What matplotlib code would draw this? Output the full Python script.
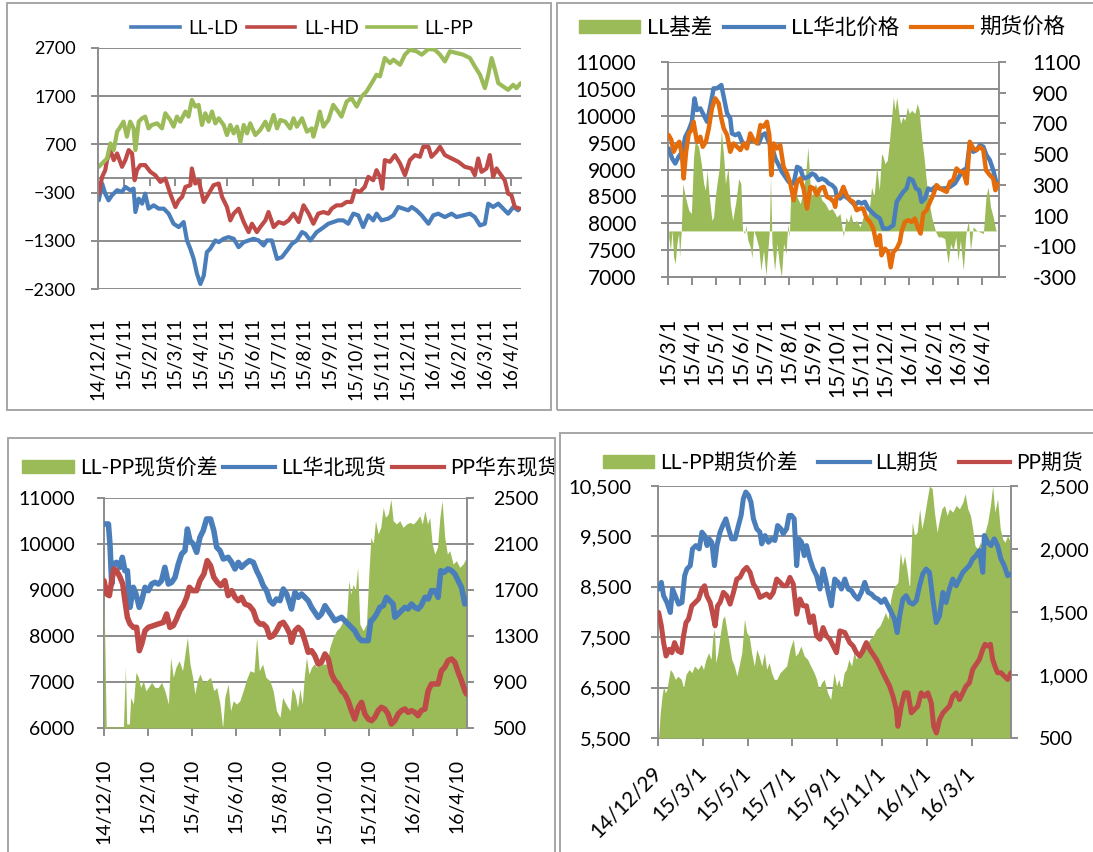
import matplotlib
matplotlib.use("Agg")
import matplotlib.pyplot as plt
from matplotlib.patches import Rectangle, Patch
from matplotlib.lines import Line2D
from matplotlib.transforms import Bbox, TransformedBbox

# ---------------- data (x in months from the first axis label) ----------------
# panel 1: LL-LD / LL-HD / LL-PP spreads
p1_ticks = ["14/12/11", "15/1/11", "15/2/11", "15/3/11", "15/4/11", "15/5/11", "15/6/11",
            "15/7/11", "15/8/11", "15/9/11", "15/10/11", "15/11/11", "15/12/11", "16/1/11",
            "16/2/11", "16/3/11", "16/4/11"]
ld_m = [0.03, 0.16, 0.28, 0.41, 0.54, 0.74, 0.93, 1.06, 1.25, 1.38, 1.45, 1.58, 1.71, 1.83, 1.96,
        2.16, 2.35, 2.55, 2.74, 2.93, 3.13, 3.32, 3.45, 3.58, 3.71, 3.84, 3.97, 4.10, 4.22, 4.35,
        4.55, 4.68, 4.87, 5.06, 5.26, 5.45, 5.65, 5.84, 6.03, 6.23, 6.42, 6.55, 6.74, 6.94, 7.13,
        7.33, 7.52, 7.71, 7.91, 8.04, 8.23,
        8.48, 8.67, 8.93, 9.12, 9.31, 9.51, 9.70, 9.90, 10.09, 10.28, 10.48, 10.67, 10.80, 10.99,
        11.25, 11.45, 11.64, 11.84, 12.03, 12.16, 12.35, 12.55, 12.81, 13.00, 13.19, 13.45, 13.71,
        13.90, 14.16, 14.42, 14.61, 14.81, 15.00, 15.13, 15.32, 15.52, 15.71, 15.90, 16.10, 16.29]
ld_v = [-460, -112, -321, -460, -355, -251, -286, -182, -251, -217, -703, -425, -529, -321, -633,
        -564, -633, -633, -737, -946, -1015, -911, -1293, -1467, -1675, -1988, -2196, -2023, -1536, -1467,
        -1293, -1328, -1258, -1223, -1258, -1432, -1328, -1293, -1258, -1293, -1397, -1293, -1293, -1675, -1640,
        -1501, -1362, -1293, -1119, -1154, -1293,
        -1119, -1050, -946, -911, -876, -876, -946, -737, -772, -1015, -772, -876, -737, -876,
        -841, -772, -599, -633, -668, -599, -668, -772, -946, -772, -737, -807, -737,
        -807, -772, -737, -807, -981, -946, -529, -599, -529, -633, -737, -599, -668]
hd_m = [0.03, 0.16, 0.28, 0.35, 0.48, 0.61, 0.74, 0.93, 1.06, 1.19, 1.32, 1.42, 1.51, 1.64, 1.83,
        2.03, 2.22, 2.42, 2.61, 2.80, 3.00, 3.13, 3.26, 3.39, 3.58, 3.64, 3.77, 3.90, 4.10, 4.29,
        4.48, 4.68, 4.81, 5.00, 5.13, 5.26, 5.45, 5.65, 5.84, 5.97, 6.16, 6.29, 6.49, 6.61, 6.81,
        7.00, 7.20, 7.39, 7.58, 7.78, 7.97, 8.17, 8.29,
        8.35, 8.54, 8.74, 8.93, 9.06, 9.25, 9.44, 9.64, 9.83, 9.96, 10.15, 10.34, 10.48, 10.67,
        10.80, 10.93, 11.02, 11.12, 11.32, 11.51, 11.71, 11.90, 12.09, 12.29, 12.48, 12.61, 12.81,
        12.93, 13.12, 13.26, 13.45, 13.71, 13.97, 14.22, 14.48, 14.61, 14.74, 14.87, 15.06, 15.19,
        15.32, 15.45, 15.58, 15.77, 15.90, 16.03, 16.16, 16.36]
hd_v = [-321, 27, 165, 374, 582, 374, 512, 235, 374, 582, 512, -43, 165, 270, 270,
        131, 61, -78, -8, -321, -599, -460, -390, -182, -147, 200, -112, -43, -494, -321,
        -147, -112, -390, -599, -876, -737, -633, -911, -1119, -946, -1119, -1015, -876, -703, -1015,
        -911, -946, -876, -737, -911, -564, -737, -876,
        -946, -737, -703, -737, -633, -564, -564, -494, -494, -251, -286, -182, 27, -43,
        165, 27, -217, 374, 339, 478, 304, 61, 374, 478, 443, 651, 651,
        443, 547, 651, 478, 408, 339, 235, 200, 61, 408, 131, 200, 478,
        27, 200, 96, -43, -321, -355, -599, -633]
pp_m = [0.03, 0.22, 0.35, 0.48, 0.61, 0.74, 0.87, 0.99, 1.12, 1.25, 1.38, 1.45, 1.58, 1.71, 1.83,
        1.96, 2.09, 2.29, 2.48, 2.61, 2.80, 2.93, 3.06, 3.19, 3.39, 3.51, 3.64, 3.77, 3.90, 4.03,
        4.16, 4.29, 4.42, 4.55, 4.68, 4.87, 5.00, 5.13, 5.26, 5.39, 5.52, 5.65, 5.78, 5.90, 6.10,
        6.29, 6.49, 6.61, 6.81, 6.94, 7.07, 7.26, 7.45, 7.58, 7.71, 7.91, 8.10, 8.29,
        8.35, 8.48, 8.60, 8.74, 8.93, 9.12, 9.31, 9.44, 9.64, 9.83, 10.03, 10.22, 10.41, 10.61,
        10.80, 10.93, 11.12, 11.32, 11.45, 11.71, 11.90, 12.09, 12.35, 12.55, 12.81, 13.06, 13.26,
        13.45, 13.64, 13.90, 14.16, 14.42, 14.61, 14.81, 15.00, 15.13, 15.26, 15.39, 15.52, 15.71,
        15.90, 16.10, 16.22, 16.39]
pp_v = [235, 339, 408, 721, 582, 964, 1068, 1172, 860, 1172, 1033, 582, 1172, 1242, 1276,
        1033, 1103, 1137, 1033, 1346, 1207, 1068, 1276, 1172, 1381, 1276, 1624, 1485, 1520, 1103,
        1346, 1172, 1381, 1137, 1242, 1103, 894, 1103, 929, 1068, 756, 1103, 929, 1137, 894,
        999, 1172, 999, 1311, 1033, 1207, 1172, 1033, 1242, 1068, 1242, 964, 1033,
        860, 1103, 1381, 1068, 1207, 1520, 1381, 1276, 1589, 1659, 1485, 1693, 1797, 1971,
        2145, 2110, 2492, 2388, 2457, 2353, 2561, 2665, 2631, 2561, 2679, 2665, 2561,
        2422, 2631, 2596, 2561, 2492, 2318, 2145, 1867, 2145, 2492, 2249, 1971, 1901,
        1832, 1936, 1867, 1971]

# panel 2: LL basis, LL north-China price, futures price
p2_ticks = ["15/3/1", "15/4/1", "15/5/1", "15/6/1", "15/7/1", "15/8/1", "15/9/1", "15/10/1",
            "15/11/1", "15/12/1", "16/1/1", "16/2/1", "16/3/1", "16/4/1"]
nc_m = [0.03, 0.17, 0.30, 0.44, 0.58, 0.72, 0.86, 0.99, 1.10, 1.20, 1.34, 1.48, 1.62, 1.75, 1.89,
        2.03, 2.21, 2.35, 2.45, 2.58, 2.65, 2.79, 2.93, 3.07, 3.20, 3.34, 3.55, 3.76, 3.90, 4.03,
        4.17, 4.31, 4.45, 4.59, 4.72, 4.86, 5.00, 5.21, 5.35, 5.48, 5.62, 5.83, 5.97, 6.10, 6.24,
        6.38, 6.52, 6.66, 6.80, 6.93,
        6.99, 7.13, 7.27, 7.47, 7.61, 7.75, 7.89, 8.02, 8.16, 8.30, 8.44, 8.58, 8.78, 8.92, 9.13,
        9.34, 9.48, 9.61, 9.75, 9.89, 10.00, 10.14, 10.28, 10.41, 10.51, 10.65, 10.79, 10.93, 11.06,
        11.27, 11.48, 11.69, 11.89, 12.10, 12.24, 12.38, 12.51, 12.65, 12.79, 12.93, 13.07, 13.20,
        13.34, 13.48, 13.62, 13.69]
nc_v = [9392, 9205, 9112, 9236, 9329, 9609, 9733, 9888, 10323, 10106, 10137, 10013, 9888, 10168, 10509,
        10509, 10571, 10261, 10044, 9950, 9671, 9640, 9671, 9516, 9454, 9516, 9547, 9485, 9640, 9671,
        9516, 9423, 9205, 9081, 8957, 8864, 8771, 8740, 9050, 9019, 8833, 8864, 8926, 8895, 8802,
        8833, 8802, 8740, 8709, 8647,
        8522, 8460, 8522, 8460, 8398, 8336, 8398, 8367, 8398, 8274, 8212, 8150, 8088, 7901, 7901,
        7963, 8398, 8491, 8584, 8647, 8833, 8802, 8647, 8615, 8398, 8460, 8647, 8615, 8677,
        8647, 8647, 8677, 8740, 8895, 8988, 9019, 9485, 9329, 9361, 9454, 9423, 9267,
        9174, 8988, 8740, 8709]
fut_m = [0.03, 0.14, 0.23, 0.37, 0.47, 0.58, 0.65, 0.75, 0.86, 0.97, 1.06, 1.20, 1.34, 1.44, 1.57,
         1.69, 1.82, 1.96, 2.10, 2.21, 2.31, 2.45, 2.58, 2.72, 2.86, 3.00, 3.14, 3.27, 3.41, 3.55,
         3.69, 3.83, 3.96, 4.10, 4.20, 4.28, 4.38, 4.52, 4.65, 4.79, 4.93, 5.07, 5.21, 5.35, 5.48,
         5.62, 5.76, 5.90, 6.04, 6.17, 6.31, 6.45, 6.59, 6.73, 6.87, 6.93,
         6.99, 7.13, 7.27, 7.40, 7.54, 7.68, 7.82, 7.96, 8.09, 8.23, 8.37, 8.51, 8.65, 8.78, 8.85,
         8.99, 9.13, 9.23, 9.34, 9.48, 9.61, 9.68, 9.82, 9.96, 10.10, 10.23, 10.37, 10.47, 10.58,
         10.72, 10.86, 10.99, 11.13, 11.27, 11.41, 11.55, 11.69, 11.82, 11.96, 12.10, 12.24, 12.38,
         12.51, 12.65, 12.79, 12.93, 13.07, 13.18, 13.34, 13.48, 13.57, 13.69]
fut_v = [9640, 9547, 9329, 9454, 9516, 9267, 8833, 9329, 9671, 9733, 9888, 9516, 9609, 9423, 9516,
         9764, 10137, 10323, 10230, 9950, 9764, 9640, 9329, 9485, 9423, 9361, 9485, 9392, 9671, 9547,
         9485, 9826, 9795, 9888, 9640, 8895, 9485, 9392, 9454, 9050, 8926, 8740, 8429, 8771, 8833,
         8647, 8274, 8677, 8647, 8522, 8647, 8677, 8491, 8460, 8398, 8305,
         8491, 8522, 8677, 8522, 8429, 8398, 8243, 8274, 8274, 8088, 8026, 7901, 7590, 7777, 7404,
         7528, 7466, 7181, 7466, 7528, 7652, 7839, 8026, 8057, 8026, 8088, 7901, 7808, 8181,
         8243, 8398, 8522, 8709, 8647, 8615, 8584, 8771, 8802, 9019, 8957, 8957, 8740,
         9516, 9392, 9361, 9423, 9361, 8988, 8895, 8833, 8615, 8740]
basis_m = [0.03, 0.10, 0.17, 0.23, 0.30, 0.37, 0.44, 0.48, 0.55, 0.61, 0.72, 0.86, 0.97, 1.06, 1.13,
           1.27, 1.38, 1.48, 1.55, 1.62, 1.71, 1.82, 1.89, 1.96, 2.03, 2.13, 2.21, 2.31, 2.38, 2.49,
           2.58, 2.68, 2.82, 2.93, 3.02, 3.09, 3.18, 3.23, 3.31, 3.41, 3.48, 3.55, 3.65, 3.76, 3.85,
           3.96, 4.06, 4.14, 4.20, 4.25, 4.31, 4.42, 4.52, 4.61, 4.70, 4.79, 4.89, 4.97, 5.03, 5.08,
           5.21, 5.35, 5.48, 5.62, 5.72, 5.80, 5.90, 5.99, 6.10, 6.24, 6.38, 6.52, 6.66, 6.80, 6.93,
           6.99, 7.13, 7.27, 7.38, 7.47, 7.57, 7.68, 7.82, 7.96, 8.09, 8.23, 8.34, 8.44, 8.54, 8.65,
           8.76, 8.85, 8.92, 8.99, 9.09, 9.17, 9.27, 9.34, 9.41, 9.48, 9.57, 9.64, 9.73, 9.82, 9.92,
           10.00, 10.10, 10.23, 10.33, 10.41, 10.51, 10.61, 10.72, 10.83, 10.93, 11.02, 11.10, 11.20,
           11.33, 11.47, 11.61, 11.71, 11.82, 11.93, 12.02, 12.12, 12.24, 12.35, 12.45, 12.54, 12.65,
           12.79, 12.93, 13.07, 13.18, 13.27, 13.37, 13.48, 13.59, 13.69]
basis_v = [-39, -126, 4, -169, -213, -82, -17, -169, 0, 308, 221, 135, 113, 482, 590,
           547, 438, 308, 265, 395, 221, 69, 91, 221, 308, 417, 655, 482, 308, 417,
           178, 69, 200, 341, 308, 4, -17, 37, -61, -104, -174, 4, -39, -104, -256,
           -126, -289, -126, 0, 351, -82, -256, -82, -213, -300, -82, -148, 48, -39, 221,
           265, 221, 178, 265, 395, 547, 265, 221, 308, 265, 200, 178, 135, 145, 113,
           91, 113, -39, 91, 48, 113, 48, 69, 26, 91, 69, 135, 286, 221, 417,
           265, 503, 482, 438, 460, 569, 742, 872, 786, 872, 764, 699, 742, 720, 807,
           764, 786, 764, 829, 786, 612, 482, 308, 178, 91, 37, -7, -39,
           -39, -50, -213, -82, -126, -39, -191, -61, -256, -17, 69, -126, 26,
           4, -7, -17, 221, 286, 156, 91, 4, -7]

# panel 3: LL-PP spot spread, LL north-China spot, PP east-China spot
p3_ticks = ["14/12/10", "15/2/10", "15/4/10", "15/6/10", "15/8/10", "15/10/10", "15/12/10",
            "16/2/10", "16/4/10"]
lls_m = [0.00, 0.20, 0.27, 0.35, 0.42, 0.57, 0.73, 0.83, 0.95, 1.06, 1.18, 1.33, 1.45, 1.60, 1.71,
         1.86, 2.01, 2.16, 2.31, 2.46, 2.61, 2.76, 2.92, 3.07, 3.22, 3.37, 3.52, 3.67, 3.78, 3.90,
         4.05, 4.20, 4.35, 4.50, 4.65, 4.83, 4.98, 5.11, 5.26, 5.41, 5.63, 5.79, 5.94, 6.09, 6.24,
         6.39, 6.59, 6.77, 6.92, 7.07, 7.22, 7.37, 7.52, 7.67, 7.82, 7.98, 8.13, 8.28, 8.43,
         8.50, 8.66, 8.81, 8.96, 9.11, 9.26, 9.41, 9.56, 9.71, 9.86, 10.02, 10.17, 10.32, 10.47,
         10.62, 10.77, 10.92, 11.07, 11.22, 11.37, 11.53, 11.68, 11.83, 11.98, 12.10, 12.21, 12.36,
         12.51, 12.66, 12.81, 12.96, 13.11, 13.19, 13.34, 13.49, 13.64, 13.79, 13.94, 14.09, 14.24,
         14.38, 14.55, 14.70, 14.85, 15.00, 15.15, 15.27, 15.42, 15.60, 15.76, 15.91, 16.06, 16.21,
         16.36, 16.44]
lls_v = [10435, 10435, 10000, 9130, 9565, 9601, 9493, 9710, 9420, 9420, 8623, 9058, 8913, 8623, 8768,
         9058, 8986, 9130, 9167, 9130, 9203, 9493, 9130, 9167, 9275, 9565, 9783, 9855, 10326, 10073,
         10000, 9819, 10145, 10290, 10544, 10544, 10290, 9928, 9855, 9674, 9710, 9601, 9457, 9601, 9493,
         9565, 9638, 9601, 9420, 9275, 9094, 8986, 8768, 8696, 8804, 8768, 9022, 8913, 8696,
         8587, 8949, 8841, 8913, 8841, 8768, 8623, 8515, 8406, 8478, 8659, 8551, 8442, 8333,
         8370, 8406, 8333, 8261, 8188, 8116, 7971, 7899, 7899, 7899, 8333, 8370, 8478,
         8623, 8659, 8841, 8768, 8696, 8406, 8478, 8551, 8623, 8587, 8696, 8623, 8587,
         8659, 8841, 8804, 8986, 8986, 8841, 9420, 9384, 9457, 9420, 9348, 9203, 9058,
         8696, 8804]
pps_m = [0.00, 0.12, 0.24, 0.35, 0.45, 0.57, 0.73, 0.85, 0.95, 1.06, 1.18, 1.33, 1.48, 1.60, 1.71,
         1.86, 2.01, 2.24, 2.46, 2.69, 2.84, 2.99, 3.14, 3.29, 3.44, 3.59, 3.75, 3.87, 4.02, 4.20,
         4.35, 4.53, 4.68, 4.83, 4.98, 5.14, 5.29, 5.48, 5.63, 5.79, 5.94, 6.09, 6.24, 6.39, 6.59,
         6.77, 6.92, 7.07, 7.22, 7.37, 7.52, 7.67, 7.82, 7.98, 8.13, 8.28, 8.43,
         8.50, 8.66, 8.81, 8.96, 9.11, 9.26, 9.41, 9.56, 9.71, 9.86, 10.02, 10.17, 10.32, 10.47,
         10.62, 10.77, 10.92, 11.07, 11.22, 11.37, 11.53, 11.68, 11.83, 11.98, 12.13, 12.28, 12.43,
         12.58, 12.73, 12.88, 13.03, 13.19, 13.34, 13.49, 13.64, 13.79, 13.94, 14.09, 14.24, 14.38,
         14.55, 14.70, 14.85, 15.00, 15.15, 15.30, 15.45, 15.60, 15.76, 15.91, 16.06, 16.21, 16.36,
         16.44]
pps_v = [9203, 8913, 8877, 9203, 9457, 9420, 9275, 9130, 8768, 8406, 8261, 8188, 8188, 7681, 7826,
         8116, 8188, 8225, 8261, 8297, 8478, 8188, 8225, 8370, 8551, 8659, 8841, 9058, 8986, 8986,
         9203, 9348, 9638, 9529, 9275, 9167, 9094, 9203, 8877, 8986, 8841, 8768, 8841, 8696, 8659,
         8551, 8333, 8261, 8261, 8188, 7971, 8007, 8116, 8261, 8297, 8188, 8043,
         7862, 8116, 8188, 8116, 7899, 7645, 7681, 7573, 7391, 7428, 7609, 7500, 7174, 7029,
         6957, 6812, 6739, 6594, 6377, 6196, 6449, 6558, 6304, 6196, 6159, 6232, 6377,
         6449, 6413, 6304, 6087, 6159, 6304, 6377, 6413, 6341, 6377, 6341, 6268, 6377,
         6413, 6812, 6957, 6957, 6957, 7246, 7319, 7464, 7500, 7428, 7210, 7029, 6812,
         6739]
spot_m = [0.00, 0.10, 0.20, 0.88, 0.97, 1.03, 1.15, 1.21, 1.33, 1.45, 1.56, 1.66, 1.78, 1.90, 2.01,
          2.16, 2.31, 2.46, 2.61, 2.76, 2.92, 3.02, 3.14, 3.26, 3.41, 3.56, 3.67, 3.78, 3.90, 4.02,
          4.12, 4.23, 4.35, 4.50, 4.65, 4.83, 4.98, 5.11, 5.26, 5.38, 5.48, 5.63, 5.74, 5.86, 6.01,
          6.16, 6.31, 6.47, 6.62, 6.80, 6.92, 7.04, 7.19, 7.34, 7.52, 7.67, 7.82, 7.98, 8.10, 8.25,
          8.43,
          8.53, 8.66, 8.78, 8.88, 8.99, 9.08, 9.18, 9.29, 9.41, 9.53, 9.64, 9.79, 9.94, 10.09, 10.24,
          10.39, 10.54, 10.69, 10.85, 11.00, 11.10, 11.19, 11.30, 11.40, 11.50, 11.60, 11.75, 11.90,
          12.01, 12.10, 12.21, 12.31, 12.43, 12.55, 12.66, 12.76, 12.89, 13.01, 13.11, 13.26, 13.41,
          13.56, 13.72, 13.87, 14.02, 14.17, 14.32, 14.43, 14.55, 14.67, 14.77, 14.88, 15.00, 15.12,
          15.23, 15.33, 15.45, 15.57, 15.68, 15.83, 15.98, 16.13, 16.28, 16.44]
spot_v = [1665, 510, 510, 510, 1028, 535, 535, 767, 708, 984, 941, 853, 911, 824, 853,
          897, 853, 853, 897, 824, 708, 1114, 941, 1028, 1086, 998, 1143, 1288, 1056, 941,
          795, 911, 969, 897, 911, 941, 824, 853, 708, 500, 767, 882, 650, 737, 708,
          737, 824, 926, 998, 984, 1288, 998, 1056, 941, 911, 824, 650, 593, 767, 708,
          650,
          853, 795, 679, 839, 708, 941, 1114, 969, 1028, 1056, 1028, 1056, 1056, 1056, 1201,
          1288, 1346, 1375, 1433, 1462, 1781, 1665, 1752, 1694, 1897, 1404, 1346, 1404,
          1839, 2158, 2100, 2303, 2187, 2245, 2419, 2332, 2361, 2491, 2303, 2274, 2303,
          2245, 2274, 2288, 2274, 2303, 2346, 2274, 2390, 2274, 2332, 2100, 2013, 2071,
          2332, 2477, 2158, 2013, 2042, 1926, 1955, 1897, 1926, 1984]

# panel 4: LL-PP futures spread, LL futures, PP futures
p4_ticks = ["14/12/29", "15/3/1", "15/5/1", "15/7/1", "15/9/1", "15/11/1", "16/1/1", "16/3/1"]
llf_m = [0.03, 0.15, 0.25, 0.40, 0.55, 0.65, 0.77, 0.92, 1.07, 1.19, 1.29, 1.44, 1.54, 1.69, 1.84,
         1.96, 2.08, 2.19, 2.28, 2.40, 2.52, 2.63, 2.77, 2.89, 3.03, 3.15, 3.29, 3.44, 3.59, 3.71,
         3.81, 3.92, 4.04, 4.15, 4.26, 4.41, 4.55, 4.63, 4.78, 4.93, 5.07, 5.22, 5.34, 5.49, 5.59,
         5.74, 5.85, 5.96, 6.08, 6.19, 6.29, 6.41, 6.53, 6.63, 6.78, 6.93, 7.08, 7.23, 7.37, 7.48,
         7.60, 7.74, 7.89,
         8.04, 8.19, 8.34, 8.49, 8.64, 8.78, 8.93, 9.08, 9.23, 9.38, 9.53, 9.67, 9.82, 9.97, 10.12,
         10.27, 10.42, 10.56, 10.68, 10.79, 10.93, 11.08, 11.23, 11.38, 11.53, 11.68, 11.82, 11.97,
         12.12, 12.27, 12.42, 12.57, 12.72, 12.86, 13.01, 13.16, 13.31, 13.46, 13.61, 13.75, 13.90,
         14.05, 14.20, 14.35, 14.50, 14.57, 14.72, 14.87, 15.01, 15.16, 15.31, 15.46, 15.61, 15.76]
llf_v = [8455, 8588, 8322, 8189, 7990, 8455, 8322, 8156, 8189, 8720, 8853, 8920, 9252, 9318, 9252,
         9584, 9517, 9318, 9451, 9384, 8920, 9318, 9584, 9716, 9849, 9650, 9451, 9451, 9716, 9916,
         10248, 10380, 10314, 10181, 9849, 9650, 9584, 9351, 9517, 9384, 9451, 9418, 9716, 9650, 9550,
         9650, 9916, 9916, 9849, 8920, 9451, 9384, 9119, 9318, 9053, 8853, 8720, 8455, 8853, 8654,
         8389, 8123, 8654,
         8588, 8455, 8654, 8455, 8422, 8322, 8256, 8389, 8588, 8389, 8356, 8289, 8256, 8189, 8256,
         8123, 7990, 7857, 7592, 7924, 8256, 8322, 8189, 8156, 8223, 8521, 8754, 8853,
         8787, 8256, 7791, 7924, 8389, 8189, 8455, 8654, 8521, 8654, 8787, 8853, 8920,
         9053, 9119, 9218, 8787, 9517, 9384, 9318, 9451, 9318, 9053, 8920, 8720, 8754]
ppf_m = [0.03, 0.15, 0.25, 0.36, 0.50, 0.62, 0.74, 0.89, 1.04, 1.14, 1.25, 1.36, 1.51, 1.66, 1.81,
         1.96, 2.08, 2.18, 2.33, 2.43, 2.55, 2.66, 2.77, 2.92, 3.07, 3.22, 3.37, 3.52, 3.66, 3.81,
         3.96, 4.11, 4.26, 4.41, 4.55, 4.70, 4.85, 5.00, 5.15, 5.30, 5.45, 5.59, 5.74, 5.89, 6.04,
         6.19, 6.34, 6.48, 6.63, 6.78, 6.93, 7.08, 7.23, 7.37, 7.52, 7.67, 7.82, 7.97,
         8.12, 8.34, 8.56, 8.71, 8.86, 9.01, 9.15, 9.30, 9.45, 9.60, 9.75, 9.90, 10.04, 10.19,
         10.34, 10.49, 10.64, 10.71, 10.86, 11.01, 11.16, 11.31, 11.45, 11.60, 11.75, 11.90, 12.05,
         12.20, 12.31, 12.43, 12.57, 12.72, 12.86, 13.01, 13.16, 13.31, 13.46, 13.61, 13.75, 13.90,
         14.05, 14.20, 14.35, 14.50, 14.60, 14.72, 14.84, 14.94, 15.04, 15.16, 15.31, 15.46, 15.61,
         15.76]
ppf_v = [7990, 7725, 7393, 7127, 7260, 7193, 7393, 7227, 7193, 7525, 7791, 7857, 8123, 8189, 8256,
         8455, 8521, 8322, 8189, 7990, 7725, 8123, 8189, 8389, 8322, 8156, 8389, 8654, 8687, 8820,
         8886, 8787, 8554, 8455, 8289, 8322, 8356, 8289, 8389, 8654, 8588, 8521, 8521, 8687, 8554,
         7957, 8256, 8123, 8123, 7791, 7924, 7525, 7459, 7691, 7525, 7459, 7326, 7193,
         7625, 7592, 7393, 7326, 7193, 7127, 7227, 7393, 7260, 7160, 7060, 6927, 6795, 6662,
         6529, 6330, 6064, 5732, 6131, 6396, 6396, 5998, 6064, 6131, 6396, 6330, 6396,
         6197, 5732, 5600, 5865, 5998, 6064, 6131, 6330, 6396, 6263, 6396, 6529, 6595,
         6861, 6961, 7060, 7260, 7359, 7326, 7359, 7060, 6927, 6795, 6795, 6729, 6662,
         6795]
fsp_m = [0.03, 0.10, 0.18, 0.25, 0.33, 0.40, 0.47, 0.55, 0.65, 0.77, 0.89, 1.04, 1.14, 1.25, 1.39,
         1.51, 1.63, 1.78, 1.93, 2.03, 2.14, 2.26, 2.37, 2.45, 2.52, 2.58, 2.67, 2.77, 2.88, 2.97,
         3.07, 3.17, 3.29, 3.41, 3.52, 3.62, 3.74, 3.86, 3.96, 4.07, 4.18, 4.30, 4.41, 4.51, 4.63,
         4.75, 4.85, 4.96, 5.07, 5.19, 5.30, 5.45, 5.59, 5.74, 5.89, 6.04, 6.14, 6.26, 6.38, 6.53,
         6.68, 6.82, 6.97, 7.08, 7.18, 7.30, 7.42, 7.57, 7.71, 7.86,
         7.97, 8.07, 8.19, 8.31, 8.41, 8.52, 8.64, 8.75, 8.86, 9.01, 9.15, 9.30, 9.45, 9.60, 9.75,
         9.90, 10.04, 10.15, 10.27, 10.39, 10.49, 10.59, 10.71, 10.82, 10.91, 11.01, 11.13, 11.23,
         11.35, 11.45, 11.57, 11.68, 11.78, 11.90, 12.02, 12.12, 12.24, 12.34, 12.46, 12.57, 12.67,
         12.79, 12.91, 13.01, 13.16, 13.31, 13.46, 13.61, 13.71, 13.83, 13.95, 14.05, 14.15, 14.27,
         14.39, 14.50, 14.60, 14.72, 14.84, 14.94, 15.04, 15.16, 15.28, 15.39, 15.49, 15.61, 15.73]
fsp_v = [513, 699, 832, 912, 859, 885, 965, 1044, 1018, 965, 991, 965, 898, 1005, 1044,
         1018, 1071, 1044, 1084, 1044, 1124, 1177, 1124, 1310, 1363, 1098, 1177, 1310, 1443, 1469,
         1363, 1257, 1124, 1071, 991, 1071, 1177, 1443, 1336, 1310, 1177, 1071, 1204, 1151, 1071,
         1177, 1044, 1098, 1018, 965, 965, 1018, 1044, 1071, 1204, 1283, 1151, 1177, 1230, 1151,
         1124, 1071, 1018, 965, 885, 938, 965, 859, 806, 1018,
         912, 965, 885, 1018, 1044, 1124, 1071, 1177, 1124, 1204, 1257, 1230, 1283, 1310, 1363,
         1389, 1443, 1496, 1443, 1602, 1682, 1708, 1735, 1974, 1868, 1948, 1815, 1682,
         2213, 2107, 2133, 2319, 2160, 2266, 2399, 2500, 2479, 2293, 2133, 2240, 2319,
         2346, 2266, 2319, 2293, 2346, 2319, 2372, 2439, 2319, 2266, 2160, 2027, 2001,
         2054, 2001, 2133, 2213, 2346, 2500, 2293, 2399, 2160, 2080, 2054, 2107, 2054]

# ---------------- style ----------------
plt.rcParams['font.family'] = ['Lato', 'Noto Sans CJK SC', 'DejaVu Sans']
BLUE = '#4a7ebb'
RED = '#be4b48'
GREEN = '#9bbb59'
ORANGE = '#e46c0a'
GRID = '#8c8c8c'
FRAME = '#a6a6a6'

W, H = 1093, 852
fig = plt.figure(figsize=(W / 100, H / 100), dpi=100)


def box(x0, y0, x1, y1):
    # pixel box (top-left origin) -> figure fraction [l, b, w, h]
    return [x0 / W, 1 - y1 / H, (x1 - x0) / W, (y1 - y0) / H]


def frame(x0, y0, x1, y1):
    fig.add_artist(Rectangle((x0 / W, 1 - y1 / H), (x1 - x0) / W, (y1 - y0) / H,
                             transform=fig.transFigure, fill=False, ec=FRAME, lw=1.4))


def style_axes(ax, fs, ypad):
    for s in ax.spines.values():
        s.set_visible(False)
    ax.spines['left'].set_visible(True)
    ax.spines['left'].set_color(GRID)
    ax.spines['left'].set_linewidth(1.4)
    ax.grid(axis='y', color=GRID, lw=1.4)
    ax.set_axisbelow(True)
    ax.tick_params(axis='y', direction='out', length=5, width=1.4, color=GRID,
                   labelsize=fs, pad=ypad)


def line(ax, x, y, c, lw):
    ax.plot(x, y, color=c, lw=lw, solid_joinstyle='round', solid_capstyle='round')


def right_axis(ax, lo, hi, step, fs, pad, fmt=None):
    r = ax.twinx()
    for s in r.spines.values():
        s.set_visible(False)
    r.spines['right'].set_visible(True)
    r.spines['right'].set_color(GRID)
    r.spines['right'].set_linewidth(1.4)
    r.set_ylim(lo, hi)
    ticks = list(range(lo, hi + 1, step))
    r.set_yticks(ticks, [fmt(t) if fmt else str(t) for t in ticks])
    r.tick_params(axis='y', direction='out', length=5, width=1.4, color=GRID,
                  labelsize=fs, pad=pad)
    return r


def top_layer(ax, lo, hi):
    t = ax.twinx()
    t.set_ylim(lo, hi)
    t.yaxis.set_visible(False)
    for s in t.spines.values():
        s.set_visible(False)
    return t


def bottom_ticks(ax, pos, labels, fs, pad, **kw):
    ax.spines['bottom'].set_visible(True)
    ax.spines['bottom'].set_color(GRID)
    ax.spines['bottom'].set_linewidth(1.4)
    ax.set_xticks(pos, labels, **kw)
    ax.tick_params(axis='x', direction='out', length=6, width=1.4, color=GRID,
                   labelsize=fs, pad=pad)


# ---------------- panel 1 ----------------
frame(7, 3, 551, 410)
ax1 = fig.add_axes(box(98, 48, 521, 289))
style_axes(ax1, 13, 11)
line(ax1, ld_m, ld_v, BLUE, 3.0)
line(ax1, hd_m, hd_v, RED, 3.0)
line(ax1, pp_m, pp_v, GREEN, 3.0)
ax1.set_xlim(0, 16.4)
ax1.set_ylim(-2300, 2700)
ax1.set_yticks(range(-2300, 2701, 1000))
p1_pos = list(range(len(p1_ticks)))
ax1.set_xticks(p1_pos, p1_ticks, rotation=90)
ax1.tick_params(axis='x', length=0, labelsize=13.5, pad=20)
lo, hi = ax1.get_ylim()
zero_axis = ax1.secondary_xaxis((0 - lo) / (hi - lo))
zero_axis.set_xticks(p1_pos)
zero_axis.set_xticklabels([])
zero_axis.tick_params(direction='out', length=6, width=1.4, color=GRID)
for s in zero_axis.spines.values():
    s.set_color(GRID)
    s.set_linewidth(1.4)
ax1.legend(handles=[Line2D([], [], color=BLUE, lw=2.6),
                    Line2D([], [], color=RED, lw=2.6),
                    Line2D([], [], color=GREEN, lw=2.6)],
           labels=["LL-LD", "LL-HD", "LL-PP"], loc='center',
           bbox_to_anchor=(302 / W, 1 - 28 / H), bbox_transform=fig.transFigure,
           ncol=3, frameon=False, fontsize=13.5, handlelength=2.6,
           handletextpad=0.45, columnspacing=0.45, borderpad=0)

# ---------------- panel 2 ----------------
frame(557, 3, 1100, 410)
ax2 = fig.add_axes(box(668, 62, 999, 277))
style_axes(ax2, 15, 18)
ax2.set_xlim(0, 13.72)
ax2.set_ylim(7000, 11000)
ax2.set_yticks(range(7000, 11001, 500))
bottom_ticks(ax2, list(range(len(p2_ticks))), p2_ticks, 15, 23, rotation=90)
ax2r = right_axis(ax2, -300, 1100, 200, 15, 19)
ax2r.fill_between(basis_m, 0, basis_v, color=GREEN, lw=0)
ax2t = top_layer(ax2, 7000, 11000)
line(ax2t, nc_m, nc_v, BLUE, 3.2)
line(ax2t, fut_m, fut_v, ORANGE, 3.2)
ax2.legend(handles=[Patch(color=GREEN), Line2D([], [], color=BLUE, lw=3.0),
                    Line2D([], [], color=ORANGE, lw=3.0)],
           labels=["LL基差", "LL华北价格", "期货价格"], loc='center',
           bbox_to_anchor=(822 / W, 1 - 28 / H), bbox_transform=fig.transFigure,
           ncol=3, frameon=False, fontsize=15.5, handlelength=2.8, handleheight=0.55,
           handletextpad=0.33, columnspacing=0.55, borderpad=0)

# ---------------- panel 3 ----------------
frame(8, 438, 555, 900)
ax3 = fig.add_axes(box(104, 498, 467, 728))
style_axes(ax3, 14, 16)
ax3.set_xlim(0, 16.46)
ax3.set_ylim(6000, 11000)
ax3.set_yticks(range(6000, 11001, 1000))
bottom_ticks(ax3, list(range(0, 2 * len(p3_ticks), 2)), p3_ticks, 14, 16, rotation=90)
ax3r = right_axis(ax3, 500, 2500, 400, 14, 14)
ax3r.fill_between(spot_m, 500, spot_v, color=GREEN, lw=0)
ax3t = top_layer(ax3, 6000, 11000)
line(ax3t, lls_m, lls_v, BLUE, 4.0)
line(ax3t, pps_m, pps_v, RED, 4.0)
leg3 = ax3.legend(handles=[Patch(color=GREEN), Line2D([], [], color=BLUE, lw=3.0),
                           Line2D([], [], color=RED, lw=3.0)],
                  labels=["LL-PP现货价差", "LL华北现货", "PP华东现货"], loc='center left',
                  bbox_to_anchor=(22 / W, 1 - 468 / H), bbox_transform=fig.transFigure,
                  ncol=3, frameon=False, fontsize=15, handlelength=2.5, handleheight=0.6,
                  handletextpad=0.3, columnspacing=0.25, borderpad=0, borderaxespad=0)
clip3 = TransformedBbox(Bbox([[0, 0], [555 / W, 1]]), fig.transFigure)
for t in leg3.get_texts():
    t.set_clip_box(clip3)
    t.set_clip_on(True)

# ---------------- panel 4 ----------------
frame(560, 433, 1100, 900)
ax4 = fig.add_axes(box(658, 486, 1011, 738))
style_axes(ax4, 14.5, 14)
ax4.set_xlim(0, 15.76)
ax4.set_ylim(5500, 10500)
ax4.set_yticks(range(5500, 10501, 1000), [f"{v:,}" for v in range(5500, 10501, 1000)])
bottom_ticks(ax4, list(range(0, 2 * len(p4_ticks), 2)), p4_ticks, 15, 17,
             rotation=45, ha='right', va='center', rotation_mode='anchor')
ax4r = right_axis(ax4, 500, 2500, 500, 14, 15, fmt=lambda v: f"{v:,}")
ax4r.fill_between(fsp_m, 500, fsp_v, color=GREEN, lw=0)
ax4t = top_layer(ax4, 5500, 10500)
line(ax4t, llf_m, llf_v, BLUE, 3.6)
line(ax4t, ppf_m, ppf_v, RED, 3.6)
ax4.legend(handles=[Patch(color=GREEN), Line2D([], [], color=BLUE, lw=3.0),
                    Line2D([], [], color=RED, lw=3.0)],
           labels=["LL-PP期货价差", "LL期货", "PP期货"], loc='center',
           bbox_to_anchor=(843 / W, 1 - 463 / H), bbox_transform=fig.transFigure,
           ncol=3, frameon=False, fontsize=15, handlelength=2.45, handleheight=0.6,
           handletextpad=0.27, columnspacing=1.0, borderpad=0)

fig.savefig("out.png", dpi=100)
